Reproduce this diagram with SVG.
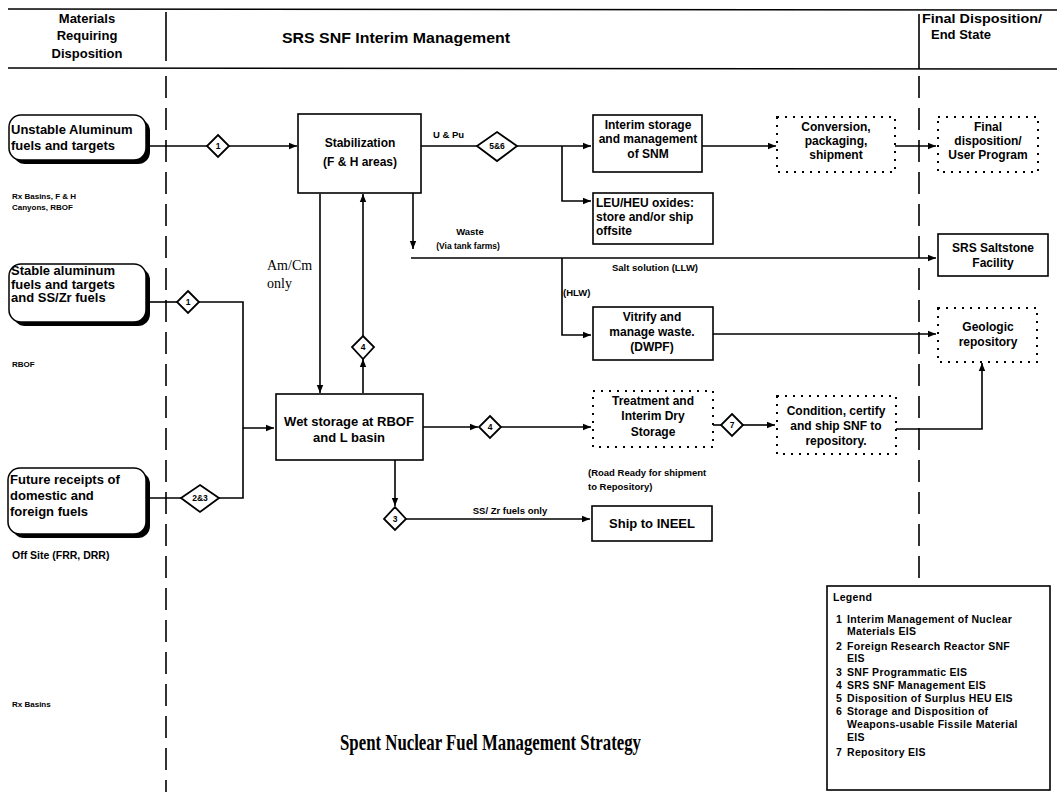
<svg xmlns="http://www.w3.org/2000/svg" width="1057" height="797" viewBox="0 0 1057 797">
<style>
  .t{font-family:"Liberation Sans",Arial,sans-serif;font-weight:bold;font-size:12px;fill:#000}
  .c{text-anchor:middle}
  .s{font-family:"Liberation Sans",Arial,sans-serif;font-weight:bold;font-size:8px;fill:#000}
  .h{font-family:"Liberation Sans",Arial,sans-serif;font-weight:bold;font-size:13px;fill:#000}
  .serif{font-family:"Liberation Serif","Times New Roman",serif;font-size:14px;fill:#000}
  .box{fill:#fff;stroke:#000;stroke-width:1.6}
  .dot{fill:#fff;stroke:#000;stroke-width:2;stroke-dasharray:2 6}
  .rnd{fill:#fff;stroke:#000;stroke-width:1.5}
  .sh{fill:#000}
  .ln{fill:none;stroke:#000;stroke-width:1.6}
  .dash{fill:none;stroke:#000;stroke-width:1.6;stroke-dasharray:22 10}
  .dia{fill:#fff;stroke:#000;stroke-width:1.8}
  .dt{font-family:"Liberation Sans",Arial,sans-serif;font-weight:bold;font-size:8.5px;text-anchor:middle;fill:#000}
  .lf{font-family:"Liberation Sans",Arial,sans-serif;font-weight:bold;font-size:13px;fill:#000}
  .lg{font-family:"Liberation Sans",Arial,sans-serif;font-weight:bold;font-size:10.5px;fill:#000;letter-spacing:0.3px}
</style>
<defs>
  <marker id="ar" viewBox="0 0 10 10" refX="10" refY="5" markerWidth="8" markerHeight="8" markerUnits="userSpaceOnUse" orient="auto">
    <path d="M0,1 L10,5 L0,9 z" fill="#000"/>
  </marker>
  <marker id="as" viewBox="0 0 10 10" refX="0" refY="5" markerWidth="8" markerHeight="8" markerUnits="userSpaceOnUse" orient="auto-start-reverse">
    <path d="M0,1 L10,5 L0,9 z" fill="#000" transform="rotate(180 5 5)"/>
  </marker>
</defs>
<rect width="1057" height="797" fill="#fff"/>

<!-- header / swimlanes -->
<g id="header">
  <line x1="8" y1="9" x2="1057" y2="10" class="ln"/>
  <line x1="8" y1="68" x2="1057" y2="69" class="ln"/>
  <line x1="166" y1="12" x2="166" y2="61" class="ln"/>
  <line x1="919" y1="14" x2="919" y2="69" class="ln"/>
  <text class="h c" x="87" y="23">Materials</text>
  <text class="h c" x="87" y="40">Requiring</text>
  <text class="h c" x="87" y="58">Disposition</text>
  <text class="h" x="282" y="43" style="font-size:14px" textLength="228" lengthAdjust="spacingAndGlyphs">SRS SNF Interim Management</text>
  <text class="h" x="922" y="23" textLength="120" lengthAdjust="spacingAndGlyphs">Final Disposition/</text>
  <text class="h" x="931" y="39">End State</text>
</g>
<g id="lanes">
  <line x1="166" y1="76" x2="166" y2="792" class="dash"/>
  <line x1="919" y1="76" x2="919" y2="586" class="dash"/>
</g>

<!-- connectors -->
<g id="connectors">
  <path class="ln" d="M147,146 H207" />
  <path class="ln" d="M229,146 H297" marker-end="url(#ar)"/>
  <path class="ln" d="M421,146 H477"/>
  <path class="ln" d="M517,146 H591" marker-end="url(#ar)"/>
  <path class="ln" d="M562,146 V201 H591" marker-end="url(#ar)"/>
  <path class="ln" d="M702,146 H776" marker-end="url(#ar)"/>
  <path class="ln" d="M895,146 H936" marker-end="url(#ar)"/>
  <path class="ln" d="M413,193 V249" marker-end="url(#ar)"/>
  <path class="ln" d="M411,258 H936" marker-end="url(#ar)"/>
  <path class="ln" d="M562,258 V335 H591" marker-end="url(#ar)"/>
  <path class="ln" d="M713,334 H936" marker-end="url(#ar)"/>
  <path class="ln" d="M147,302 H177"/>
  <path class="ln" d="M199,302 H243 V428 H274" marker-end="url(#ar)"/>
  <path class="ln" d="M147,498 H181"/>
  <path class="ln" d="M219,498 H243 V428"/>
  <path class="ln" d="M320,194 V393" marker-start="url(#as)" marker-end="url(#ar)"/>
  <path class="ln" d="M363,393 V359" marker-end="url(#ar)"/>
  <path class="ln" d="M363,336 V194" marker-end="url(#ar)"/>
  <path class="ln" d="M423,427 H478" marker-end="url(#ar)"/>
  <path class="ln" d="M501,427 H591" marker-end="url(#ar)"/>
  <path class="ln" d="M395,459 V506" marker-end="url(#ar)"/>
  <path class="ln" d="M406,519 H590" marker-end="url(#ar)"/>
  <path class="ln" d="M713,425 H721"/>
  <path class="ln" d="M743,425 H775" marker-end="url(#ar)"/>
  <path class="ln" d="M896,429 H982 V363" marker-end="url(#ar)"/>
  <g id="connector-labels">
    <text class="s" x="433" y="138" style="font-size:9.5px">U &amp; Pu</text>
    <text class="s c" x="470" y="235" style="font-size:9.5px">Waste</text>
    <text class="s c" x="468" y="249" style="font-size:8.5px">(Via tank farms)</text>
    <text class="s" x="612" y="271" style="font-size:9.5px">Salt solution (LLW)</text>
    <text class="s" x="563" y="296" style="font-size:9.5px">(HLW)</text>
    <text class="serif" x="267" y="270">Am/Cm</text>
    <text class="serif" x="267" y="288">only</text>
    <text class="s c" x="510" y="514" style="font-size:9.5px">SS/ Zr fuels only</text>
  </g>
</g>

<!-- diamonds -->
<g id="d1a"><path class="dia" d="M218,135 L229,146 L218,157 L207,146 z"/><text class="dt" x="218" y="149">1</text></g>
<g id="d56"><path class="dia" d="M497,132 L517,146 L497,161 L477,146 z"/><text class="dt" x="497" y="149">5&amp;6</text></g>
<g id="d1b"><path class="dia" d="M188,291 L199,302 L188,313 L177,302 z"/><text class="dt" x="188" y="305">1</text></g>
<g id="d23"><path class="dia" d="M200,485 L219,498 L200,512 L181,498 z"/><text class="dt" x="200" y="501">2&amp;3</text></g>
<g id="d4v"><path class="dia" d="M363,336 L374,347 L363,359 L352,347 z"/><text class="dt" x="363" y="350">4</text></g>
<g id="d4h"><path class="dia" d="M490,416 L501,427 L490,438 L479,427 z"/><text class="dt" x="490" y="430">4</text></g>
<g id="d3"><path class="dia" d="M395,507 L406,519 L395,530 L384,519 z"/><text class="dt" x="395" y="522">3</text></g>
<g id="d7"><path class="dia" d="M732,414 L743,425 L732,436 L721,425 z"/><text class="dt" x="732" y="428">7</text></g>

<!-- left nodes -->
<g id="unstable">
  <rect class="sh" x="13" y="119" width="137" height="45" rx="12"/>
  <rect class="rnd" x="9" y="115" width="137" height="45" rx="12"/>
  <text class="lf" x="11" y="134">Unstable Aluminum</text>
  <text class="lf" x="11" y="150">fuels and targets</text>
  <text class="s" x="12" y="199">Rx Basins, F &amp; H</text>
  <text class="s" x="12" y="210">Canyons, RBOF</text>
</g>
<g id="stable">
  <rect class="sh" x="13" y="268" width="137" height="58" rx="12"/>
  <rect class="rnd" x="9" y="264" width="137" height="58" rx="12"/>
  <text class="lf" x="11" y="275">Stable aluminum</text>
  <text class="lf" x="11" y="289">fuels and targets</text>
  <text class="lf" x="11" y="302">and SS/Zr fuels</text>
  <text class="s" x="12" y="367">RBOF</text>
</g>
<g id="future">
  <rect class="sh" x="12" y="472" width="138" height="66" rx="12"/>
  <rect class="rnd" x="8" y="468" width="138" height="66" rx="12"/>
  <text class="lf" x="10" y="484">Future receipts of</text>
  <text class="lf" x="10" y="500">domestic and</text>
  <text class="lf" x="10" y="516">foreign fuels</text>
  <text class="s" x="12" y="559" style="font-size:10.5px">Off Site (FRR, DRR)</text>
</g>
<g id="rxbasins"><text class="s" x="12" y="707">Rx Basins</text></g>

<!-- process nodes -->
<g id="stabilization">
  <rect class="box" x="298" y="114" width="123" height="79"/>
  <text class="t c" x="360" y="147">Stabilization</text>
  <text class="t c" x="360" y="166">(F &amp; H areas)</text>
</g>
<g id="interim">
  <rect class="box" x="593" y="115" width="109" height="57"/>
  <text class="t c" x="648" y="129">Interim storage</text>
  <text class="t c" x="648" y="143">and management</text>
  <text class="t c" x="648" y="158">of SNM</text>
</g>
<g id="leuheu">
  <rect class="box" x="593" y="193" width="120" height="51"/>
  <text class="t" x="596" y="207">LEU/HEU oxides:</text>
  <text class="t" x="596" y="221">store and/or ship</text>
  <text class="t" x="596" y="235">offsite</text>
</g>
<g id="conversion">
  <rect class="dot" x="777" y="117" width="118" height="55"/>
  <text class="t c" x="836" y="131">Conversion,</text>
  <text class="t c" x="836" y="145">packaging,</text>
  <text class="t c" x="836" y="159">shipment</text>
</g>
<g id="final">
  <rect class="dot" x="938" y="117" width="100" height="55"/>
  <text class="t c" x="988" y="131">Final</text>
  <text class="t c" x="988" y="145">disposition/</text>
  <text class="t c" x="988" y="159">User Program</text>
</g>
<g id="saltstone">
  <rect class="box" x="938" y="234" width="110" height="42"/>
  <text class="t c" x="993" y="252">SRS Saltstone</text>
  <text class="t c" x="993" y="267">Facility</text>
</g>
<g id="vitrify">
  <rect class="box" x="593" y="307" width="120" height="53"/>
  <text class="t c" x="652" y="321">Vitrify and</text>
  <text class="t c" x="652" y="336">manage waste.</text>
  <text class="t c" x="652" y="351">(DWPF)</text>
</g>
<g id="geologic">
  <rect class="dot" x="938" y="308" width="99" height="54"/>
  <text class="t c" x="988" y="331">Geologic</text>
  <text class="t c" x="988" y="346">repository</text>
</g>
<g id="wetstorage">
  <rect class="box" x="276" y="394" width="147" height="66"/>
  <text class="t c" x="349" y="426" style="font-size:13px">Wet storage at RBOF</text>
  <text class="t c" x="349" y="442" style="font-size:13px">and L basin</text>
</g>
<g id="treatment">
  <rect class="dot" x="593" y="391" width="120" height="56"/>
  <text class="t c" x="653" y="405">Treatment and</text>
  <text class="t c" x="653" y="420">Interim Dry</text>
  <text class="t c" x="653" y="436">Storage</text>
  <text class="s" x="588" y="476" style="font-size:9.5px">(Road Ready for shipment</text>
  <text class="s" x="588" y="490" style="font-size:9.5px">to Repository)</text>
</g>
<g id="condition">
  <rect class="dot" x="777" y="396" width="119" height="58"/>
  <text class="t c" x="836" y="415">Condition, certify</text>
  <text class="t c" x="836" y="430">and ship SNF to</text>
  <text class="t c" x="836" y="445">repository.</text>
</g>
<g id="ineel">
  <rect class="box" x="592" y="506" width="120" height="35"/>
  <text class="t c" x="652" y="528" style="font-size:13px">Ship to INEEL</text>
</g>

<!-- legend -->
<g id="legend">
  <rect x="827" y="586" width="223" height="204" fill="#fff" stroke="#000" stroke-width="1.6"/>
  <text class="lg" x="833" y="601">Legend</text>
  <text class="lg" x="836" y="623">1</text><text class="lg" x="847" y="623">Interim Management of Nuclear</text>
  <text class="lg" x="847" y="635">Materials EIS</text>
  <text class="lg" x="836" y="650">2</text><text class="lg" x="847" y="650">Foreign Research Reactor SNF</text>
  <text class="lg" x="847" y="662">EIS</text>
  <text class="lg" x="836" y="676">3</text><text class="lg" x="847" y="676">SNF Programmatic EIS</text>
  <text class="lg" x="836" y="689">4</text><text class="lg" x="847" y="689">SRS SNF Management EIS</text>
  <text class="lg" x="836" y="702">5</text><text class="lg" x="847" y="702">Disposition of Surplus HEU EIS</text>
  <text class="lg" x="836" y="715">6</text><text class="lg" x="847" y="715">Storage and Disposition of</text>
  <text class="lg" x="847" y="728">Weapons-usable Fissile Material</text>
  <text class="lg" x="847" y="741">EIS</text>
  <text class="lg" x="836" y="756">7</text><text class="lg" x="847" y="756">Repository EIS</text>
</g>

<g id="title">
  <text x="340" y="750" textLength="301" lengthAdjust="spacingAndGlyphs" style="font-family:'Liberation Serif','Times New Roman',serif;font-weight:bold;font-size:23px">Spent Nuclear Fuel Management Strategy</text>
</g>
</svg>
